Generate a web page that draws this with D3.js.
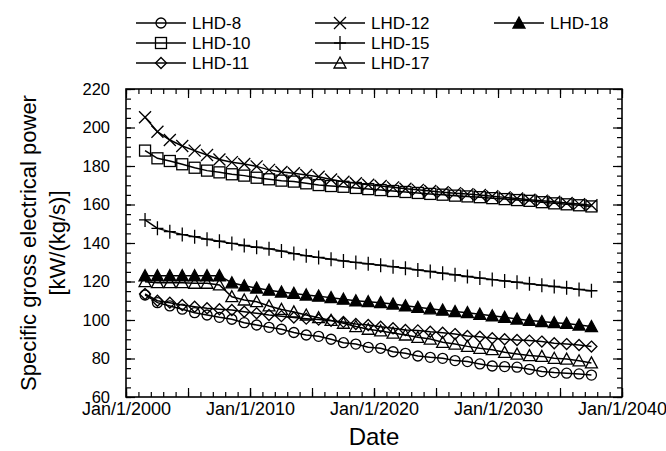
<!DOCTYPE html>
<html>
<head>
<meta charset="utf-8">
<script src="https://cdn.jsdelivr.net/npm/d3@7"></script>
<style>
  body { margin: 0; background: #fff; }
  svg { display: block; }
  text { font-family: "Liberation Sans", Arial, sans-serif; fill: #000; }
</style>
</head>
<body>
<svg id="chart" width="666" height="451"></svg>
<script>
// Yearly operating points, mid-2001 through mid-2037
const startDate = new Date(2001, 6, 15);
const pointCount = 37;
const dates = d3.range(pointCount).map(i => d3.timeYear.offset(startDate, i));

// Specific gross electrical power [kW/(kg/s)] per well
const lhd8  = [113.0, 109.0, 107.3, 105.6, 103.8, 102.6, 101.4, 100.4, 98.6, 97.4,
               96.2, 95.2, 93.5, 92.2, 91.5, 90.0, 88.2, 87.5, 85.8, 85.3,
               83.5, 82.7, 81.3, 80.6, 80.1, 78.9, 78.4, 77.2, 76.1, 75.8,
               75.5, 74.4, 73.2, 72.7, 72.4, 72.0, 71.4];
const lhd10 = [188.0, 184.0, 182.6, 180.9, 179.1, 177.6, 176.7, 175.7, 175.0, 173.9,
               173.1, 172.4, 171.9, 171.0, 170.1, 169.6, 169.2, 168.6, 168.0, 167.5,
               167.0, 166.5, 166.0, 165.5, 165.1, 164.6, 164.2, 163.8, 163.3, 162.8,
               162.3, 161.9, 161.2, 160.6, 160.1, 159.6, 159.0];
const lhd11 = [113.5, 110.0, 109.0, 107.8, 106.9, 106.1, 105.6, 105.2, 104.3, 103.5,
               102.6, 102.0, 101.3, 100.7, 100.2, 99.6, 99.0, 97.9, 97.4, 96.5,
               95.7, 94.8, 94.6, 93.9, 93.4, 92.7, 91.7, 91.3, 90.5, 90.0,
               89.6, 89.3, 88.8, 87.9, 87.5, 87.0, 86.2];
const lhd12 = [205.3, 197.8, 193.5, 190.4, 188.0, 185.7, 183.4, 182.0, 181.0, 179.8,
               178.0, 176.9, 176.2, 175.3, 174.4, 173.0, 171.8, 171.0, 170.3, 169.6,
               168.9, 168.2, 167.6, 167.0, 166.4, 165.9, 165.4, 164.9, 164.3, 163.7,
               163.1, 162.5, 162.0, 161.4, 160.8, 160.2, 159.6];
const lhd15 = [152.0, 147.6, 145.9, 144.4, 143.3, 142.0, 140.9, 139.8, 138.7, 137.8,
               137.0, 135.8, 134.5, 133.4, 132.5, 131.6, 130.7, 129.9, 129.2, 128.5,
               127.7, 126.9, 126.0, 125.2, 124.3, 123.5, 122.6, 121.8, 121.0, 120.3,
               119.6, 118.8, 118.1, 117.4, 116.7, 115.9, 115.2];
const lhd17 = [119.9, 119.4, 119.4, 119.4, 119.1, 119.1, 118.2, 112.1, 110.4, 109.5,
               107.3, 105.5, 104.2, 102.6, 101.2, 99.8, 98.3, 96.6, 95.2, 94.3,
               93.2, 92.2, 91.0, 90.1, 88.4, 87.5, 86.3, 85.3, 84.6, 83.2,
               82.3, 81.5, 81.1, 80.1, 79.7, 78.8, 77.7];
const lhd18 = [123.0, 123.0, 123.0, 123.0, 123.0, 123.0, 123.0, 119.3, 117.8, 116.6,
               115.5, 114.5, 113.8, 113.0, 112.4, 111.6, 110.8, 110.0, 109.5, 109.0,
               108.3, 107.4, 106.6, 105.8, 105.1, 104.4, 103.8, 103.0, 102.2, 101.4,
               100.5, 99.8, 99.2, 98.6, 98.2, 97.4, 96.6];

const seriesNames   = ["LHD-8", "LHD-10", "LHD-11", "LHD-12", "LHD-15", "LHD-17", "LHD-18"];
const seriesValues  = [lhd8, lhd10, lhd11, lhd12, lhd15, lhd17, lhd18];
const seriesMarkers = ["circle", "square", "diamond", "cross", "plus", "triangle", "triangleFilled"];

const yTickValues = [60, 80, 100, 120, 140, 160, 180, 200, 220];
const xLabelYears = [2000, 2010, 2020, 2030, 2040];
const xTitle = "Date";
const yTitleLines = ["Specific gross electrical power", "[kW/(kg/s)]"];

// Layout
const svg = d3.select("#chart");
const plot = { left: 126, right: 622, top: 89, bottom: 397 };

const x = d3.scaleTime()
  .domain([new Date(2000, 0, 1), new Date(2040, 0, 1)])
  .range([plot.left, plot.right]);
const y = d3.scaleLinear()
  .domain([60, 220])
  .range([plot.bottom, plot.top]);

const yearDate = yr => new Date(yr, 0, 1);
const allYears = d3.range(2000, 2041).map(yearDate);
const fiveYears = d3.range(2000, 2041, 5).map(yearDate);
const minorY = d3.range(60, 221, 5);

function cleanAxis(g) {
  g.select(".domain").remove();
  g.selectAll(".tick line").attr("stroke", "#000").attr("stroke-width", 1.2);
}

// Minor ticks on all four sides, pointing into the plot
svg.append("g").attr("transform", `translate(0,${plot.bottom})`)
  .call(d3.axisBottom(x).tickValues(allYears).tickSize(-5).tickFormat(""))
  .call(cleanAxis);
svg.append("g").attr("transform", `translate(0,${plot.top})`)
  .call(d3.axisTop(x).tickValues(allYears).tickSize(-5).tickFormat(""))
  .call(cleanAxis);
svg.append("g").attr("transform", `translate(${plot.left},0)`)
  .call(d3.axisLeft(y).tickValues(minorY).tickSize(-5).tickFormat(""))
  .call(cleanAxis);
svg.append("g").attr("transform", `translate(${plot.right},0)`)
  .call(d3.axisRight(y).tickValues(minorY).tickSize(-5).tickFormat(""))
  .call(cleanAxis);

// Major ticks
svg.append("g").attr("transform", `translate(0,${plot.top})`)
  .call(d3.axisTop(x).tickValues(fiveYears).tickSize(-9).tickFormat(""))
  .call(cleanAxis);
svg.append("g").attr("transform", `translate(${plot.right},0)`)
  .call(d3.axisRight(y).tickValues(yTickValues).tickSize(-9).tickFormat(""))
  .call(cleanAxis);
svg.append("g").attr("transform", `translate(0,${plot.bottom})`)
  .call(d3.axisBottom(x).tickValues(fiveYears).tickSize(-9).tickFormat(""))
  .call(cleanAxis);

// Labelled axes
const labelledDates = xLabelYears.map(yearDate);
const fmt = d3.timeFormat("%b/%-d/%Y");
svg.append("g").attr("transform", `translate(0,${plot.bottom})`)
  .call(d3.axisBottom(x).tickValues(labelledDates).tickSize(-9).tickPadding(5).tickFormat(fmt))
  .call(cleanAxis)
  .call(g => g.selectAll("text").attr("font-size", 18).attr("font-family", "Liberation Sans, Arial, sans-serif"));
svg.append("g").attr("transform", `translate(${plot.left},0)`)
  .call(d3.axisLeft(y).tickValues(yTickValues).tickSize(-9).tickPadding(16).tickFormat(d3.format("d")))
  .call(cleanAxis)
  .call(g => g.selectAll("text").attr("font-size", 16.5).attr("font-family", "Liberation Sans, Arial, sans-serif"));

// Frame
svg.append("rect")
  .attr("x", plot.left).attr("y", plot.top)
  .attr("width", plot.right - plot.left).attr("height", plot.bottom - plot.top)
  .attr("fill", "none").attr("stroke", "#000").attr("stroke-width", 1.6);

// Axis titles
svg.append("text")
  .attr("x", (plot.left + plot.right) / 2).attr("y", 445)
  .attr("text-anchor", "middle").attr("font-size", 24)
  .text(xTitle);
const yTitle = svg.append("text")
  .attr("transform", `translate(36,${(plot.top + plot.bottom) / 2}) rotate(-90)`)
  .attr("text-anchor", "middle").attr("font-size", 22);
yTitle.append("tspan").attr("x", 0).attr("dy", 0).text(yTitleLines[0]);
yTitle.append("tspan").attr("x", 0).attr("dy", 29).text(yTitleLines[1]);

// Marker shapes
function drawMarker(g, kind) {
  const s = "#000", w = 1.3;
  switch (kind) {
    case "circle":
      g.append("circle").attr("r", 5).attr("fill", "none").attr("stroke", s).attr("stroke-width", w); break;
    case "square":
      g.append("rect").attr("x", -5.5).attr("y", -5.5).attr("width", 11).attr("height", 11)
        .attr("fill", "none").attr("stroke", s).attr("stroke-width", w); break;
    case "diamond":
      g.append("path").attr("d", "M0,-5.5L5.5,0L0,5.5L-5.5,0Z")
        .attr("fill", "none").attr("stroke", s).attr("stroke-width", w); break;
    case "cross":
      g.append("path").attr("d", "M-6,-6L6,6M-6,6L6,-6")
        .attr("fill", "none").attr("stroke", s).attr("stroke-width", w); break;
    case "plus":
      g.append("path").attr("d", "M0,-7L0,7M-6,0L6,0")
        .attr("fill", "none").attr("stroke", s).attr("stroke-width", w); break;
    case "triangle":
      g.append("path").attr("d", "M0,-6L6,5L-6,5Z")
        .attr("fill", "none").attr("stroke", s).attr("stroke-width", w); break;
    case "triangleFilled":
      g.append("path").attr("d", "M0,-6L6,5L-6,5Z")
        .attr("fill", s).attr("stroke", s).attr("stroke-width", w); break;
  }
}

// Series lines and markers
const line = d3.line().x((d, i) => x(dates[i])).y(d => y(d));
seriesValues.forEach((vals, k) => {
  const g = svg.append("g").attr("class", "series");
  g.append("path").datum(vals)
    .attr("d", line).attr("fill", "none").attr("stroke", "#000").attr("stroke-width", 1.5);
  g.selectAll("g.pt").data(vals).join("g")
    .attr("class", "pt")
    .attr("transform", (d, i) => `translate(${x(dates[i])},${y(d)})`)
    .each(function () { drawMarker(d3.select(this), seriesMarkers[k]); });
});

// Legend: three columns
const legendCols = [136, 315, 494];
const legendRows = [23, 43, 63];
const legendSlots = [[0, 0], [0, 1], [0, 2], [1, 0], [1, 1], [1, 2], [2, 0]];
seriesNames.forEach((name, k) => {
  const [c, r] = legendSlots[k];
  const lx = legendCols[c], ly = legendRows[r];
  const g = svg.append("g").attr("transform", `translate(${lx},${ly})`);
  g.append("line").attr("x1", 0).attr("x2", 50).attr("y1", 0).attr("y2", 0)
    .attr("stroke", "#000").attr("stroke-width", 1.5);
  const m = g.append("g").attr("transform", "translate(25,0)");
  drawMarker(m, seriesMarkers[k]);
  g.append("text").attr("x", 56).attr("y", 0).attr("dy", "0.35em")
    .attr("font-size", 17).text(name);
});
</script>
</body>
</html>
